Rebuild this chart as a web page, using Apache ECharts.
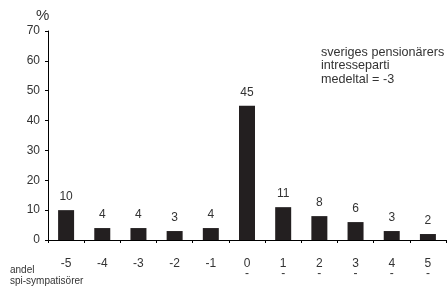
<!DOCTYPE html>
<html><head><meta charset="utf-8">
<script src="https://cdn.jsdelivr.net/npm/echarts@6/dist/echarts.min.js"></script>
<style>html,body{margin:0;padding:0;background:#fff}#c{width:447px;height:288px}</style>
</head><body><div id="c"></div>
<script>
const categories = ['-5','-4','-3','-2','-1','0','1','2','3','4','5'];
const values = [10, 4, 4, 3, 4, 45, 11, 8, 6, 3, 2];
const yTicks = {min: 0, max: 70, interval: 10};
const noteLines = ['sveriges pensionärers', 'intresseparti', 'medeltal = -3'];
const footLines = ['andel', 'spi-sympatisörer'];

const font = 'Liberation Sans, Arial, sans-serif';
const chart = echarts.init(document.getElementById('c'));
chart.setOption({
  animation: false,
  grid: {left: 48, right: 1, top: 31, bottom: 48},
  xAxis: {
    type: 'category', data: categories,
    axisLine: {lineStyle: {color: '#000', width: 1}},
    axisTick: {show: true, length: 3, lineStyle: {color: '#000'}},
    axisLabel: {
      margin: 19, color: '#333', fontSize: 12, fontFamily: font, lineHeight: 10,
      formatter: v => v + '\n' + (Number(v) >= 0 ? '-' : ' ')
    }
  },
  yAxis: {
    type: 'value', min: yTicks.min, max: yTicks.max, interval: yTicks.interval,
    splitLine: {show: false},
    axisLine: {show: true, lineStyle: {color: '#000', width: 1}},
    axisTick: {show: true, length: 3, lineStyle: {color: '#000'}},
    axisLabel: {margin: 8, color: '#333', fontSize: 12, fontFamily: font}
  },
  series: [{
    type: 'bar', data: values, barWidth: 16,
    itemStyle: {color: '#231f20'},
    label: {show: true, position: 'top', distance: 7, color: '#333', fontSize: 12, fontFamily: font}
  }],
  graphic: [
    {type: 'text', left: 36, top: 8, style: {text: '%', fontSize: 15, fill: '#333', fontFamily: font}},
    {type: 'text', left: 321, top: 46, style: {text: noteLines.join('\n'), fontSize: 12.6, lineHeight: 13.3, fill: '#333', fontFamily: font}},
    {type: 'text', left: 10, top: 265, style: {text: footLines.join('\n'), fontSize: 10, lineHeight: 11, fill: '#333', fontFamily: font}}
  ]
});
</script></body></html>
